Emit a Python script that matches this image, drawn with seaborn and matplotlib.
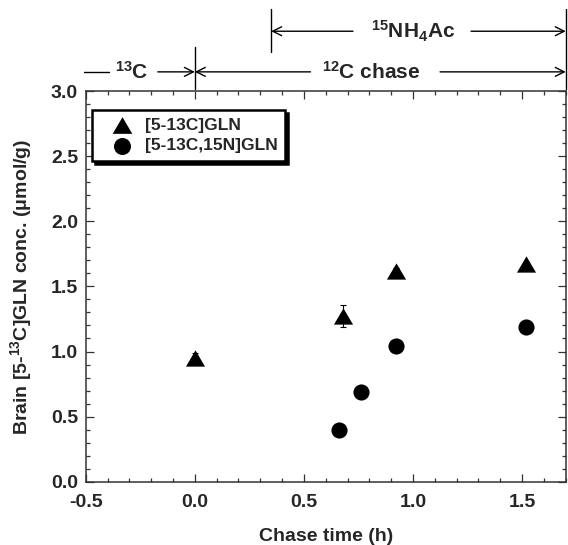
import matplotlib
matplotlib.use("Agg")
import matplotlib.pyplot as plt
import matplotlib.transforms as mtransforms
from matplotlib.ticker import MultipleLocator
import seaborn as sns
import numpy as np

# ---- data ----
x_gln = [0.00, 0.68, 0.92, 1.52]
y_gln = [0.95, 1.27, 1.62, 1.67]
err_gln = [0.04, 0.085, 0.02, 0.02]
x_n15 = [0.66, 0.76, 0.92, 1.52]
y_n15 = [0.40, 0.69, 1.04, 1.19]
label_gln = "[5-13C]GLN"
label_n15 = "[5-13C,15N]GLN"
x_ticks = [-0.5, 0.0, 0.5, 1.0, 1.5]
y_ticks = [0.0, 0.5, 1.0, 1.5, 2.0, 2.5, 3.0]

sns.set_style("ticks")
plt.rcParams['font.family'] = ['Liberation Sans', 'DejaVu Sans']
plt.rcParams['font.weight'] = 'bold'
plt.rcParams['mathtext.fontset'] = 'custom'
plt.rcParams['mathtext.rm'] = 'Liberation Sans:bold'
plt.rcParams['mathtext.bf'] = 'Liberation Sans:bold'
plt.rcParams['mathtext.it'] = 'Liberation Sans:bold'
plt.rcParams['mathtext.default'] = 'bf'

fig = plt.figure(figsize=(5.68, 5.45), dpi=100)
ax = fig.add_axes([0.151, 0.116, 0.845, 0.717])

tri = [(-1, -0.85), (1, -0.85), (0, 0.85)]
ax.errorbar(x_gln, y_gln, yerr=err_gln, fmt='none', ecolor='black',
            elinewidth=0.8, capsize=2.5, capthick=0.8, zorder=2)
sns.scatterplot(x=x_gln, y=y_gln, marker=tri, s=190, color='black',
                edgecolor='black', linewidth=0, label=label_gln, ax=ax, zorder=3)
sns.scatterplot(x=x_n15, y=y_n15, marker='o', s=135, color='black',
                edgecolor='black', linewidth=0, label=label_n15, ax=ax, zorder=3)

ax.set_xlim(-0.5, 1.7)
ax.set_ylim(0, 3.0)
ax.set_xticks(x_ticks)
ax.set_yticks(y_ticks)
ax.set_xticklabels([f"{t:.1f}" for t in x_ticks], fontsize=14, fontweight='bold')
ax.set_yticklabels([f"{t:.1f}" for t in y_ticks], fontsize=14, fontweight='bold')
ax.xaxis.set_minor_locator(MultipleLocator(0.1))
ax.yaxis.set_minor_locator(MultipleLocator(0.1))
ax.tick_params(which='both', direction='in', top=True, right=True,
               color='#333333', width=0.9)
ax.tick_params(which='major', length=6)
ax.tick_params(which='minor', length=3)
ax.tick_params(axis='x', which='major', pad=9)
ax.tick_params(axis='y', which='major', pad=5.5)
for s in ax.spines.values():
    s.set_linewidth(1.1)
    s.set_color('#333333')

ax.set_xlabel("Chase time (h)", fontsize=14, fontweight='bold', labelpad=12)
ax.set_ylabel("Brain [5-$^{13}$C]GLN conc. (μmol/g)", fontsize=14,
              fontweight='bold', labelpad=12)

leg = ax.legend(loc='upper left', bbox_to_anchor=(0.014, 0.952),
                frameon=True, fancybox=False, shadow={'color': 'black', 'alpha': 1},
                prop={'size': 12.5, 'weight': 'bold'}, handletextpad=0.05,
                borderpad=0.45, labelspacing=0.3, borderaxespad=0,
                handlelength=2.5)
leg.get_frame().set_edgecolor('black')
leg.get_frame().set_linewidth(1.8)
leg.get_frame().set_alpha(1)
for h, sz in zip(leg.legend_handles, [200, 150]):
    try:
        h.set_sizes([sz])
    except Exception:
        h.set_markersize(np.sqrt(sz))

# ---- annotations above the plot ----
trans = mtransforms.blended_transform_factory(ax.transData, ax.transAxes)
lk = dict(color='black', lw=1.0, clip_on=False, transform=trans)
ax.plot([0.0, 0.0], [1.005, 1.113], **lk)
ax.plot([0.35, 0.35], [1.10, 1.21], **lk)
ax.plot([1.7, 1.7], [1.005, 1.21], **lk)

def arrow(x0, x1, y):
    ax.annotate('', xy=(x1, y), xytext=(x0, y), xycoords=trans, textcoords=trans,
                arrowprops=dict(arrowstyle='->', lw=1.0, color='black',
                                mutation_scale=16, shrinkA=0, shrinkB=0),
                annotation_clip=False)

y1 = 1.049
y2 = 1.153
ax.plot([-0.51, -0.395], [y1, y1], **lk)
ax.text(-0.29, y1, "$^{13}$C", transform=trans, ha='center', va='center',
        fontsize=15, fontweight='bold')
arrow(-0.17, 0.0, y1)
arrow(0.53, 0.0, y1)
ax.text(0.81, y1, "$^{12}$C chase", transform=trans, ha='center', va='center',
        fontsize=15, fontweight='bold')
arrow(1.124, 1.7, y1)
arrow(0.725, 0.35, y2)
ax.text(1.0, y2, "$^{15}$NH$_4$Ac", transform=trans, ha='center', va='center',
        fontsize=15, fontweight='bold')
arrow(1.266, 1.7, y2)

fig.savefig("out.png", dpi=100)
